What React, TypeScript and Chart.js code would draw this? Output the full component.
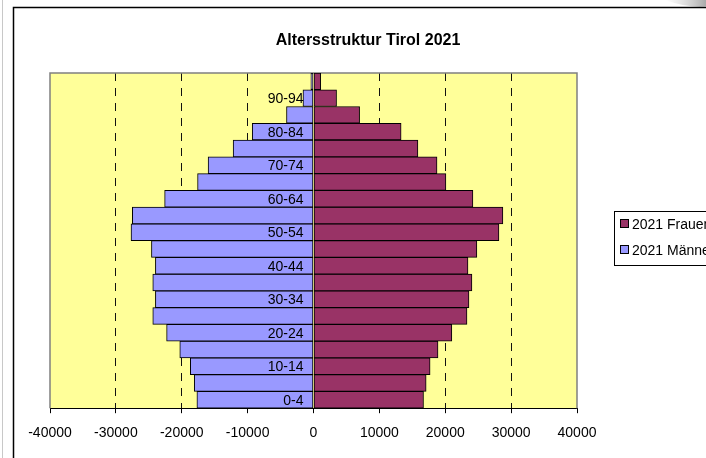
import React, { useEffect, useRef } from "react";
import { Chart, registerables } from "chart.js";

Chart.register(...registerables);

const chartTitle = "Altersstruktur Tirol 2021";
const categories = [
  "0-4", "5-9", "10-14", "15-19", "20-24", "25-29", "30-34", "35-39", "40-44", "45-49",
  "50-54", "55-59", "60-64", "65-69", "70-74", "75-79", "80-84", "85-89", "90-94", "95+",
];
const shownCategoryLabels = ["0-4", "10-14", "20-24", "30-34", "40-44", "50-54", "60-64", "70-74", "80-84", "90-94"];
const women = [
  16700, 17100, 17700, 18900, 21000, 23300, 23600, 24050, 23450, 24800,
  28150, 28750, 24200, 20100, 18750, 15850, 13300, 7000, 3500, 1100,
];
const men = [
  17700, 18100, 18700, 20300, 22300, 24400, 24000, 24400, 24000, 24600,
  27700, 27500, 22600, 17600, 16000, 12200, 9300, 4100, 1600, 400,
];
const xTickValues = [-40000, -30000, -20000, -10000, 0, 10000, 20000, 30000, 40000];
const seriesLabels = ["2021 Frauen", "2021 Männer"];
const seriesColors = ["#993366", "#9999FF"];

const FONT = "'Liberation Sans', Arial, sans-serif";

const framePlugin = {
  id: "frame",
  beforeDraw(chart: any) {
    const { ctx, width, height, chartArea } = chart;
    ctx.save();
    ctx.fillStyle = "#fff";
    ctx.fillRect(0, 0, width, height);
    // faint outer line
    ctx.strokeStyle = "#c8c8c8";
    ctx.lineWidth = 1;
    ctx.beginPath();
    ctx.moveTo(2.5, 0);
    ctx.lineTo(2.5, height);
    ctx.stroke();
    // page curl shade top-right
    const g = ctx.createLinearGradient(665, 0, 706, 0);
    g.addColorStop(0, "rgba(200,200,200,0)");
    g.addColorStop(1, "rgba(160,160,160,0.9)");
    ctx.fillStyle = g;
    ctx.beginPath();
    ctx.moveTo(665, 0);
    ctx.quadraticCurveTo(690, 9, 710, 6);
    ctx.lineTo(710, 0);
    ctx.closePath();
    ctx.fill();
    // chart frame
    ctx.strokeStyle = "#000";
    ctx.lineWidth = 1.5;
    ctx.beginPath();
    ctx.moveTo(13.5, height + 5);
    ctx.lineTo(13.5, 7.5);
    ctx.lineTo(width + 5, 7.5);
    ctx.stroke();
    // title
    ctx.fillStyle = "#000";
    ctx.font = `bold 16px ${FONT}`;
    ctx.textAlign = "center";
    ctx.textBaseline = "middle";
    ctx.fillText(chartTitle, 368, 41);
    // plot background
    ctx.fillStyle = "#FFFF99";
    ctx.fillRect(chartArea.left, chartArea.top, chartArea.right - chartArea.left, chartArea.bottom - chartArea.top);
    ctx.restore();
  },
  beforeDatasetsDraw(chart: any) {
    const { ctx, chartArea } = chart;
    ctx.save();
    ctx.strokeStyle = "#808080";
    ctx.lineWidth = 1.5;
    ctx.beginPath();
    ctx.moveTo(chartArea.left, chartArea.bottom);
    ctx.lineTo(chartArea.left, chartArea.top);
    ctx.lineTo(chartArea.right, chartArea.top);
    ctx.lineTo(chartArea.right, chartArea.bottom);
    ctx.stroke();
    ctx.restore();
  },
  afterDatasetsDraw(chart: any) {
    const { ctx, scales } = chart;
    const x0 = scales.x.getPixelForValue(0);
    ctx.save();
    ctx.font = `14px ${FONT}`;
    ctx.fillStyle = "#000";
    ctx.textAlign = "right";
    ctx.textBaseline = "middle";
    categories.forEach((c, i) => {
      if (shownCategoryLabels.includes(c)) {
        ctx.fillText(c, x0 - 10, scales.y.getPixelForValue(i) + 1);
      }
    });
    ctx.restore();
  },
  afterDraw(chart: any) {
    const { ctx } = chart;
    ctx.save();
    // legend box
    ctx.strokeStyle = "#000";
    ctx.lineWidth = 1;
    ctx.fillStyle = "#fff";
    ctx.fillRect(614.5, 211.5, 140, 54);
    ctx.strokeRect(614.5, 211.5, 140, 54);
    ctx.font = `14px ${FONT}`;
    ctx.textAlign = "left";
    ctx.textBaseline = "middle";
    const rows = [224, 250];
    seriesLabels.forEach((label, i) => {
      ctx.fillStyle = seriesColors[i];
      ctx.fillRect(620.5, rows[i] - 4.5, 8, 8);
      ctx.strokeStyle = "#000";
      ctx.strokeRect(620.5, rows[i] - 4.5, 8, 8);
      ctx.fillStyle = "#000";
      ctx.fillText(label, 632, rows[i] + 1);
    });
    ctx.restore();
  },
};

export default function App() {
  const ref = useRef<HTMLCanvasElement | null>(null);

  useEffect(() => {
    document.body.style.margin = "0";
    const canvas = ref.current;
    if (!canvas) return;
    const chart = new Chart(canvas, {
      type: "bar",
      data: {
        labels: categories,
        datasets: [
          {
            label: seriesLabels[0],
            data: women,
            backgroundColor: seriesColors[0],
            borderColor: "#000",
            borderWidth: 1,
            borderSkipped: false,
            categoryPercentage: 1,
            barPercentage: 1,
          },
          {
            label: seriesLabels[1],
            data: men.map((v) => -v),
            backgroundColor: seriesColors[1],
            borderColor: "#000",
            borderWidth: 1,
            borderSkipped: false,
            categoryPercentage: 1,
            barPercentage: 1,
          },
        ],
      },
      options: {
        indexAxis: "y",
        responsive: false,
        animation: false,
        devicePixelRatio: 1,
        layout: { padding: { left: 50, right: 159, top: 73, bottom: 16 } },
        plugins: {
          legend: { display: false },
          tooltip: { enabled: false },
          title: { display: false },
        },
        scales: {
          x: {
            type: "linear",
            min: -40000,
            max: 40000,
            stacked: true,
            afterBuildTicks: (scale: any) => {
              scale.ticks = xTickValues.map((v) => ({ value: v }));
            },
            ticks: {
              autoSkip: false,
              maxRotation: 0,
              color: "#000",
              padding: 12,
              font: { family: FONT, size: 14 },
              callback: (v: any) => String(v),
            },
            grid: {
              color: (c: any) =>
                c.tick && (c.tick.value === 0 || Math.abs(c.tick.value) === 40000) ? "rgba(0,0,0,0)" : "#111",
              lineWidth: 1,
              tickColor: "#000",
              tickLength: 5,
              tickBorderDash: [],
            },
            border: { display: true, color: "#000", width: 1, dash: [8, 7] },
          },
          y: {
            type: "category",
            display: false,
            stacked: true,
            reverse: true,
          },
        },
      },
      plugins: [framePlugin],
    });
    return () => chart.destroy();
  }, []);

  return (
    <div style={{ position: "fixed", left: 0, top: 0, width: 706, height: 458, overflow: "hidden", background: "#fff" }}>
      <canvas ref={ref} width={736} height={470} style={{ display: "block", width: 736, height: 470 }} />
    </div>
  );
}
